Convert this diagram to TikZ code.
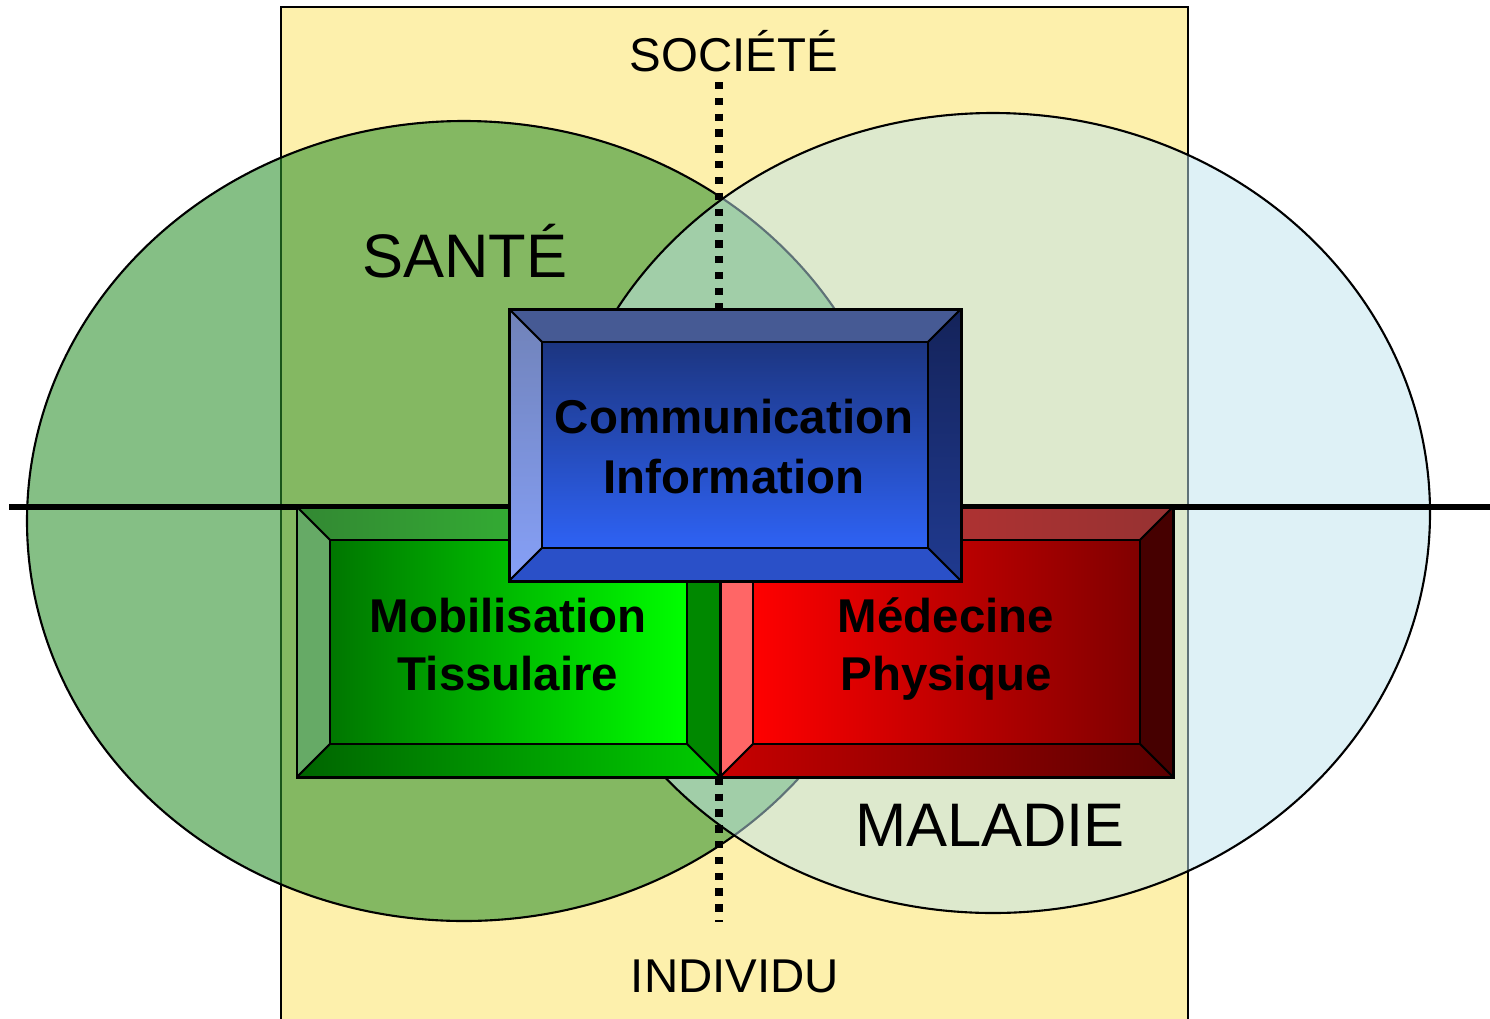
\documentclass[tikz,border=0pt]{standalone}
\usepackage{fontspec}
\setmainfont{Liberation Sans}
\definecolor{rectfill}{RGB}{253,240,172}
\definecolor{greenell}{RGB}{45,145,45}
\definecolor{blueell}{RGB}{190,228,238}
% green box
\definecolor{gTopL}{RGB}{51,136,51}\definecolor{gTopR}{RGB}{51,204,51}
\definecolor{gLeft}{RGB}{102,170,102}
\definecolor{gFaceL}{RGB}{0,118,0}\definecolor{gFaceR}{RGB}{0,255,0}
\definecolor{gRight}{RGB}{0,136,0}
\definecolor{gBotL}{RGB}{0,100,0}\definecolor{gBotR}{RGB}{0,204,0}
% red box
\definecolor{rTopL}{RGB}{200,50,50}\definecolor{rTopR}{RGB}{150,50,50}
\definecolor{rLeft}{RGB}{255,102,102}
\definecolor{rFaceL}{RGB}{255,0,0}\definecolor{rFaceR}{RGB}{128,0,0}
\definecolor{rRight}{RGB}{70,0,0}
\definecolor{rBotL}{RGB}{200,0,0}\definecolor{rBotR}{RGB}{90,0,0}
% blue box
\definecolor{bTop}{RGB}{70,90,148}
\definecolor{bLeftT}{RGB}{112,130,184}\definecolor{bLeftB}{RGB}{134,160,248}
\definecolor{bFaceT}{RGB}{28,53,128}\definecolor{bFaceB}{RGB}{46,98,244}
\definecolor{bRightT}{RGB}{20,35,90}\definecolor{bRightB}{RGB}{32,58,144}
\definecolor{bBot}{RGB}{42,80,200}
\newcommand{\bevelbox}[5]{%
  \path[#5top,draw=black,line width=1.1pt,line join=round] (#1,#2) -- (#3,#2) -- ({#3-33},{#2+33}) -- ({#1+33},{#2+33}) -- cycle;
  \path[#5left,draw=black,line width=1.1pt,line join=round] (#1,#2) -- ({#1+33},{#2+33}) -- ({#1+33},{#4-33}) -- (#1,#4) -- cycle;
  \path[#5right,draw=black,line width=1.1pt,line join=round] (#3,#2) -- (#3,#4) -- ({#3-33},{#4-33}) -- ({#3-33},{#2+33}) -- cycle;
  \path[#5bot,draw=black,line width=1.1pt,line join=round] (#1,#4) -- (#3,#4) -- ({#3-33},{#4-33}) -- ({#1+33},{#4-33}) -- cycle;
  \path[#5face,draw=black,line width=1.1pt] ({#1+33},{#2+33}) rectangle ({#3-33},{#4-33});
  \draw[line width=1.7pt] (#1,#2) rectangle (#3,#4);
}
\begin{document}
\begin{tikzpicture}[x=0.02cm,y=-0.02cm,
  lbl/.style={anchor=base,inner sep=0pt,font=\fontsize{27}{33}\selectfont},
  biglbl/.style={anchor=base,inner sep=0pt,font=\fontsize{35}{42}\selectfont},
  boxlbl/.style={anchor=base,inner sep=0pt,font=\fontsize{27}{33}\selectfont\bfseries},
  gtop/.style={left color=gTopL,right color=gTopR},
  gleft/.style={fill=gLeft},
  gright/.style={fill=gRight},
  gbot/.style={left color=gBotL,right color=gBotR},
  gface/.style={left color=gFaceL,right color=gFaceR},
  rtop/.style={left color=rTopL,right color=rTopR},
  rleft/.style={fill=rLeft},
  rright/.style={fill=rRight},
  rbot/.style={left color=rBotL,right color=rBotR},
  rface/.style={left color=rFaceL,right color=rFaceR},
  btop/.style={fill=bTop},
  bleft/.style={top color=bLeftT,bottom color=bLeftB},
  bright/.style={top color=bRightT,bottom color=bRightB},
  bbot/.style={fill=bBot},
  bface/.style={top color=bFaceT,bottom color=bFaceB}]
\useasboundingbox (0,0) rectangle (1490,1018);
% background rectangle
\draw[fill=rectfill,line width=1.2pt] (281,7) rectangle (1188,1030);
% ellipses
\draw[fill=greenell,fill opacity=0.58,line width=1.2pt] (464,521) ellipse [x radius=437,y radius=400];
\draw[fill=blueell,fill opacity=0.5,line width=1.2pt] (993,513) ellipse [x radius=437,y radius=400];
% axes
\coordinate (hl) at (9,507);
\coordinate (hr) at (1490,507);
\draw[line width=3.4pt] (hl) -- (hr);
\coordinate (vt) at (719,82);
\coordinate (vb) at (719,922);
\draw[line width=4.5pt,dash pattern=on 4.2pt off 4.8pt] (vt) -- (vb);
% labels
\node[lbl] (soc) at (734,71) {SOCIÉTÉ};
\node[lbl] (ind) at (735,992) {INDIVIDU};
\node[biglbl] (sante) at (465,277) {SANTÉ};
\node[biglbl] (mal) at (990,846) {MALADIE};
% boxes
\bevelbox{297}{507}{720}{777}{g}
\bevelbox{720}{507}{1173}{777}{r}
\bevelbox{509}{309}{961}{581}{b}
\node[boxlbl] (comm) at (734,433) {Communication};
\node[boxlbl] (info) at (734,493) {Information};
\node[boxlbl] (mob) at (508,632) {Mobilisation};
\node[boxlbl] (tiss) at (508,690) {Tissulaire};
\node[boxlbl] (med) at (946,632) {Médecine};
\node[boxlbl] (phys) at (946,690) {Physique};
\end{tikzpicture}
\end{document}
